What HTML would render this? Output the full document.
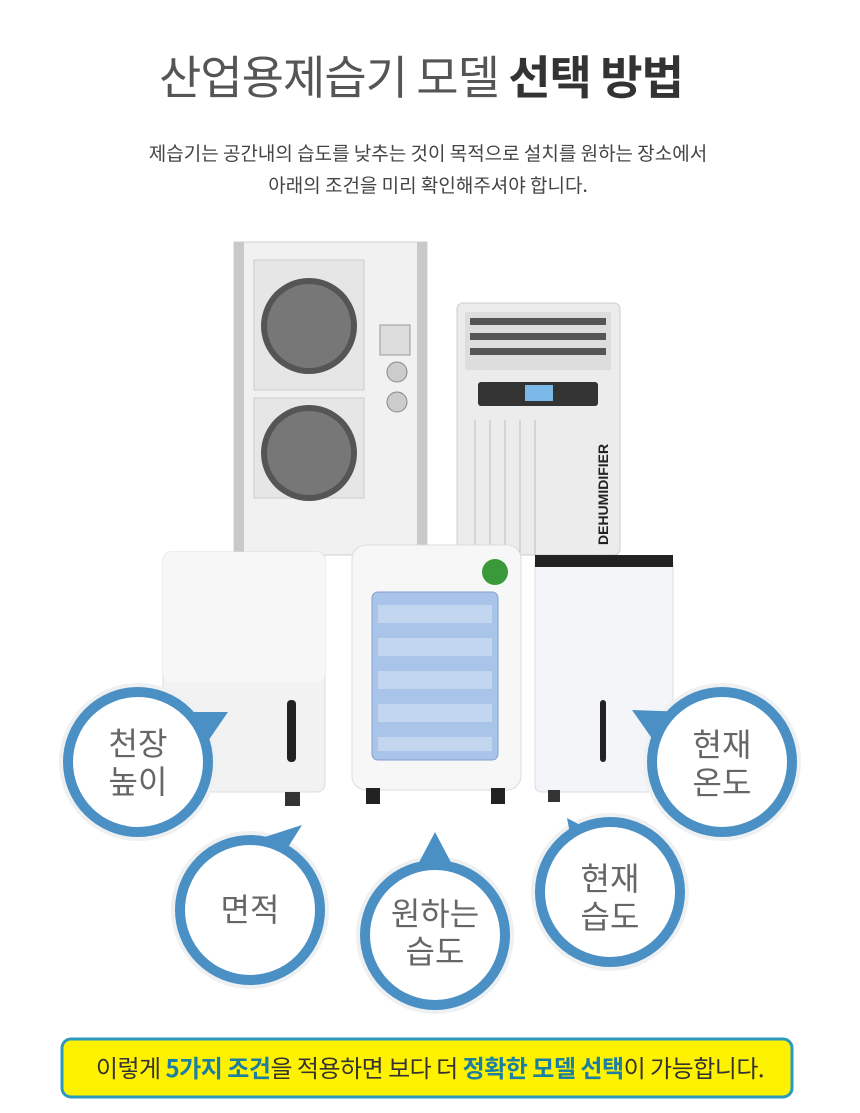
<!DOCTYPE html>
<html><head><meta charset="utf-8"><style>
body{margin:0;width:860px;height:1113px;background:#fff;overflow:hidden;font-family:"Liberation Sans","Noto Sans CJK KR",sans-serif;}
</style></head><body>
<svg width="860" height="1113" viewBox="0 0 860 1113" xmlns="http://www.w3.org/2000/svg" style="position:absolute;left:0;top:0">
<text x="421" y="94" text-anchor="middle" font-family="Noto Sans CJK KR,sans-serif" font-size="46" fill="#555" letter-spacing="-1">산업용제습기 모델 <tspan font-weight="bold" fill="#333">선택 방법</tspan></text>
<text x="428" y="160" text-anchor="middle" font-family="Noto Sans CJK KR,sans-serif" font-size="19" fill="#444">제습기는 공간내의 습도를 낮추는 것이 목적으로 설치를 원하는 장소에서</text>
<text x="428" y="192" text-anchor="middle" font-family="Noto Sans CJK KR,sans-serif" font-size="19" fill="#444">아래의 조건을 미리 확인해주셔야 합니다.</text>

<rect x="234" y="242" width="193" height="313" fill="#f1f1f1" stroke="#d0d0d0"/>
<rect x="234" y="242" width="10" height="313" fill="#c9c9c9"/>
<rect x="417" y="242" width="10" height="313" fill="#c9c9c9"/>
<rect x="254" y="260" width="110" height="130" fill="#e6e6e6" stroke="#ccc"/>
<circle cx="309" cy="326" r="48" fill="#555"/><circle cx="309" cy="326" r="42" fill="#777"/>
<rect x="254" y="398" width="110" height="100" fill="#e6e6e6" stroke="#ccc"/>
<circle cx="309" cy="453" r="48" fill="#555"/><circle cx="309" cy="453" r="42" fill="#777"/>
<rect x="380" y="325" width="30" height="30" fill="#ddd" stroke="#999"/>
<circle cx="397" cy="372" r="10" fill="#ccc" stroke="#888"/><circle cx="397" cy="402" r="10" fill="#ccc" stroke="#888"/>
<rect x="457" y="303" width="163" height="252" rx="6" fill="#ececec" stroke="#ccc"/>
<rect x="465" y="312" width="146" height="58" fill="#ddd"/>
<g fill="#555"><rect x="470" y="318" width="136" height="7"/><rect x="470" y="333" width="136" height="7"/><rect x="470" y="348" width="136" height="7"/></g>
<rect x="478" y="382" width="120" height="24" rx="3" fill="#333"/>
<rect x="525" y="385" width="28" height="16" fill="#7ab8e8"/>
<g stroke="#bbb"><line x1="475" y1="420" x2="475" y2="555"/><line x1="490" y1="420" x2="490" y2="555"/><line x1="505" y1="420" x2="505" y2="555"/><line x1="520" y1="420" x2="520" y2="555"/><line x1="535" y1="420" x2="535" y2="555"/></g>
<text x="608" y="545" transform="rotate(-90 608 545)" font-size="14" font-weight="bold" fill="#222">DEHUMIDIFIER</text>
<rect x="163" y="552" width="162" height="240" rx="8" fill="#f2f2f2" stroke="#ddd"/>
<rect x="163" y="552" width="162" height="130" rx="8" fill="#f7f7f7"/>
<rect x="287" y="700" width="9" height="62" rx="4" fill="#222"/>
<rect x="285" y="792" width="15" height="14" fill="#333"/>
<rect x="352" y="545" width="169" height="245" rx="14" fill="#f7f7f7" stroke="#ddd"/>
<rect x="372" y="592" width="126" height="168" rx="6" fill="#a8c4e8" stroke="#7f9fcf"/>
<g fill="#c2d6f0"><rect x="378" y="605" width="114" height="18"/><rect x="378" y="638" width="114" height="18"/><rect x="378" y="671" width="114" height="18"/><rect x="378" y="704" width="114" height="18"/><rect x="378" y="737" width="114" height="14"/></g>
<circle cx="495" cy="572" r="13" fill="#3a9a3a"/>
<rect x="366" y="788" width="14" height="16" fill="#222"/><rect x="491" y="788" width="14" height="16" fill="#222"/>
<rect x="535" y="557" width="138" height="235" rx="6" fill="#f4f5f8" stroke="#ddd"/>
<rect x="535" y="555" width="138" height="12" fill="#222"/>
<rect x="600" y="700" width="6" height="62" rx="3" fill="#222"/>
<rect x="548" y="790" width="12" height="12" fill="#333"/>

<g fill="#eef0f2">
<circle cx="138" cy="762" r="79"/><circle cx="250" cy="910" r="79"/><circle cx="435" cy="935" r="79"/><circle cx="610" cy="892" r="79"/><circle cx="722" cy="762" r="79"/>
</g>
<g fill="#4a90c4">
<polygon points="175,712 228,712 195,760"/>
<polygon points="302,825 280,860 240,845"/>
<polygon points="435,832 415,870 455,870"/>
<polygon points="567,818 575,860 612,842"/>
<polygon points="632,710 690,712 660,750"/>
</g>
<g fill="#fff" stroke="#4a90c4" stroke-width="10">
<circle cx="138" cy="762" r="70"/><circle cx="250" cy="910" r="70"/><circle cx="435" cy="935" r="70"/><circle cx="610" cy="892" r="70"/><circle cx="722" cy="762" r="70"/>
</g>
<g font-family="Noto Sans CJK KR,sans-serif" font-size="32" fill="#666" text-anchor="middle">
<text x="138" y="755">천장</text><text x="138" y="793">높이</text>
<text x="250" y="921">면적</text>
<text x="435" y="925">원하는</text><text x="435" y="963">습도</text>
<text x="610" y="890">현재</text><text x="610" y="928">습도</text>
<text x="722" y="756">현재</text><text x="722" y="794">온도</text>
</g>

<rect x="62" y="1039" width="730" height="58" rx="9" fill="#fff200" stroke="#2a9bbf" stroke-width="3"/>
<text x="430" y="1077" text-anchor="middle" font-family="Noto Sans CJK KR,sans-serif" font-size="24" fill="#333" letter-spacing="-0.5">이렇게 <tspan font-weight="bold" fill="#1a7fa0">5가지 조건</tspan>을 적용하면 보다 더 <tspan font-weight="bold" fill="#1a7fa0">정확한 모델 선택</tspan>이 가능합니다.</text>
</svg>
</body></html>
